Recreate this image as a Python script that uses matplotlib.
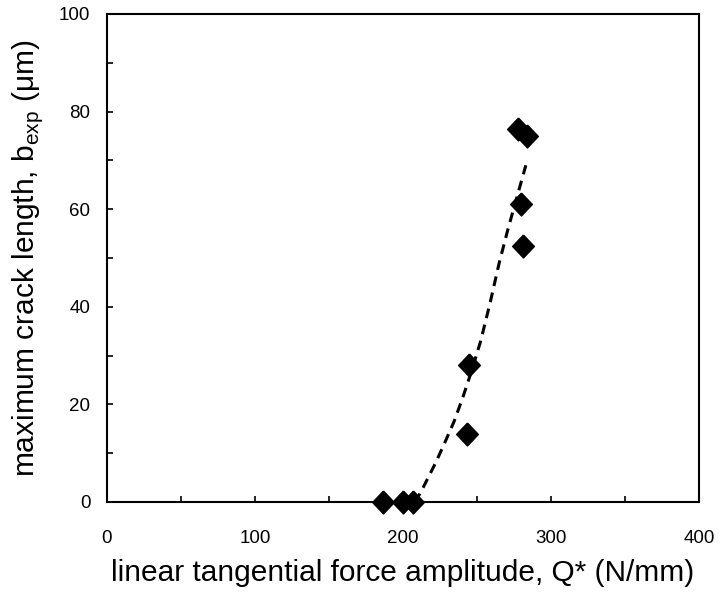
import matplotlib
matplotlib.use('Agg')
import matplotlib.pyplot as plt
from matplotlib.ticker import MultipleLocator

plt.rcParams['font.family'] = ['Liberation Sans', 'DejaVu Sans']
plt.rcParams['mathtext.fontset'] = 'custom'
plt.rcParams['mathtext.rm'] = 'Liberation Sans'

# measured points
q_meas = [186.5, 200, 206.5, 243, 244.5, 281, 280, 278, 283.5]
b_meas = [0, 0, 0, 14, 28, 52.5, 61, 76.5, 75]

# dashed trend curve
q_fit = [208, 212, 217, 222, 228, 234.5, 240.5, 246.5, 252.5, 259, 265, 271, 277, 283]
b_fit = [0, 2, 5, 8, 12, 16.5, 21.5, 27, 33, 41, 49, 56, 62.5, 69]

fig = plt.figure(figsize=(7.2, 5.98), dpi=100)
ax = fig.add_axes([107/720, 1-502/598, 592/720, 488/598])

ax.plot(q_fit, b_fit, '--', color='black', lw=2.2, dashes=(3.2, 2.2))
dia = [(0, 1), (0.95, 0), (0, -1), (-0.95, 0), (0, 1)]
ax.plot(q_meas, b_meas, linestyle='none', marker=dia, markersize=16.5,
        color='black', clip_on=False, zorder=3)

ax.set_xlim(0, 400)
ax.set_ylim(0, 100)
ax.xaxis.set_major_locator(MultipleLocator(100))
ax.xaxis.set_minor_locator(MultipleLocator(50))
ax.yaxis.set_major_locator(MultipleLocator(20))
ax.yaxis.set_minor_locator(MultipleLocator(10))
ax.tick_params(which='both', direction='in', length=4, width=1.2, labelsize=13.5)
ax.tick_params(axis='x', pad=20)
ax.tick_params(axis='y', pad=12)
for s in ax.spines.values():
    s.set_linewidth(1.5)

ax.set_xlabel('linear tangential force amplitude, Q* (N/mm)', fontsize=21.5, labelpad=9)
ax.set_ylabel(r'maximum crack length, b$_\mathregular{exp}$ (μm)', fontsize=21.5, labelpad=10)

plt.savefig('out.png', dpi=100)
